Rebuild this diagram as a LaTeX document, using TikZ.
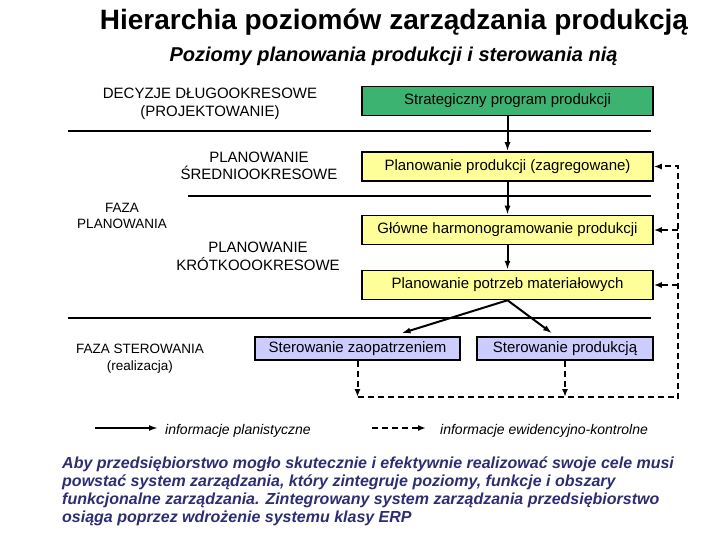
\documentclass[tikz,border=0pt]{standalone}
\usepackage{fontspec}
\setmainfont{Liberation Sans}
\usetikzlibrary{arrows.meta}
\definecolor{boxgreen}{RGB}{60,179,113}
\definecolor{boxyellow}{RGB}{255,255,153}
\definecolor{boxblue}{RGB}{204,204,255}
\definecolor{parnavy}{RGB}{45,45,115}
\begin{document}
\begin{tikzpicture}[x=1pt,y=-1pt,
  lvl/.style={inner sep=0pt, font=\fontsize{15}{17.5}\selectfont, align=center},
  faza/.style={inner sep=0pt, font=\fontsize{13.5}{16.5}\selectfont, align=center},
  box/.style={draw, line width=1.5pt, minimum height=29pt, inner sep=0pt,
    font=\fontsize{15}{17}\selectfont},
  sepline/.style={line width=2pt},
  plan/.style={line width=2pt, -{Latex[length=9pt,width=6pt]}},
  ctrlline/.style={line width=2pt, dash pattern=on 6pt off 4pt},
  ctrl/.style={ctrlline, -{Latex[length=8pt,width=6pt]}},
]
\useasboundingbox (0,0) rectangle (720,540);

% titles
\node[anchor=base, inner sep=0pt, font=\fontsize{28}{31}\selectfont\bfseries] (title) at (394,30) {Hierarchia poziomów zarządzania produkcją};
\node[anchor=base, inner sep=0pt, font=\fontsize{20}{23}\selectfont\bfseries\itshape] (sub) at (393.5,62) {Poziomy planowania produkcji i sterowania nią};

% separator lines
\coordinate (l1a) at (68,131.5); \coordinate (l1b) at (651,131.5);
\coordinate (l2a) at (188,196.5); \coordinate (l2b) at (651,196.5);
\coordinate (l3a) at (68,317.5); \coordinate (l3b) at (651,317.5);
\draw[sepline] (l1a) -- (l1b);
\draw[sepline] (l2a) -- (l2b);
\draw[sepline] (l3a) -- (l3b);

% left labels (base = last line's baseline)
\node[lvl, anchor=base] (dec) at (210,116.5) {DECYZJE DŁUGOOKRESOWE\\(PROJEKTOWANIE)};
\node[lvl, anchor=base] (sred) at (259,180) {PLANOWANIE\\ŚREDNIOOKRESOWE};
\node[faza, anchor=base] (fp) at (122,228.5) {FAZA\\PLANOWANIA};
\node[lvl, anchor=base] (krot) at (258,270) {PLANOWANIE\\KRÓTKOOOKRESOWE};
\node[faza, anchor=base] (fs) at (140,370) {FAZA STEROWANIA\\(realizacja)};

% boxes
\node[box, fill=boxgreen, minimum width=291pt] (g) at (507.5,101) {Strategiczny program produkcji};
\node[box, fill=boxyellow, minimum width=291pt] (y1) at (507.5,166.5) {Planowanie produkcji (zagregowane)};
\node[box, fill=boxyellow, minimum width=291pt] (y2) at (507.5,230) {Główne harmonogramowanie produkcji};
\node[box, fill=boxyellow, minimum width=291pt] (y3) at (507.5,285) {Planowanie potrzeb materiałowych};
\node[box, fill=boxblue, minimum width=205pt, minimum height=23pt] (b1) at (357.5,348.5) {Sterowanie zaopatrzeniem};
\node[box, fill=boxblue, minimum width=176pt, minimum height=23pt] (b2) at (565,348.5) {Sterowanie produkcją};

% planning arrows
\draw[plan] (g.south) -- (y1.north);
\draw[plan] (y1.south) -- (y2.north);
\draw[plan] (y2.south) -- (y3.north);
\draw[plan] (y3.south) -- ([xshift=44pt,yshift=3pt]b1.north);
\draw[plan] (y3.south) -- ([xshift=-13pt,yshift=3pt]b2.north);

% control (feedback) lines
\coordinate (bl) at (357.5,397);
\coordinate (br) at (678,397);
\coordinate (tr) at (678,166.5);
\draw[ctrl] (b1.south) -- (b1.south |- bl);
\draw[ctrl] (b2.south) -- (b2.south |- bl);
\draw[ctrlline] (bl) -- ([xshift=1pt]br) ;
\draw[ctrl] ([yshift=-2pt]br) -- (tr) -- (y1.east);
\draw[ctrl] (y2.east -| tr) -- (y2.east);
\draw[ctrl] (y3.east -| tr) -- (y3.east);

% legend
\coordinate (la) at (95,428); \coordinate (lb) at (158,428);
\coordinate (lc) at (372,428); \coordinate (ld) at (426,428);
\draw[plan] (la) -- (lb);
\draw[ctrl] (lc) -- (ld);
\node[anchor=base west, inner sep=0pt, font=\fontsize{14}{17}\selectfont\itshape] (lt1) at (165,434) {informacje planistyczne};
\node[anchor=base west, inner sep=0pt, font=\fontsize{14}{17}\selectfont\itshape] (lt2) at (440,434) {informacje ewidencyjno-kontrolne};

% paragraph (base = last line's baseline)
\node[anchor=base west, inner sep=0pt, align=left, text=parnavy,
  font=\fontsize{16}{18}\selectfont\bfseries\itshape] (par) at (62,522)
  {Aby przedsiębiorstwo mogło skutecznie i efektywnie realizować swoje cele musi\\
   powstać system zarządzania, który zintegruje poziomy, funkcje i obszary\\
   funkcjonalne zarządzania. Zintegrowany system zarządzania przedsiębiorstwo\\
   osiąga poprzez wdrożenie systemu klasy ERP};
\end{tikzpicture}
\end{document}
